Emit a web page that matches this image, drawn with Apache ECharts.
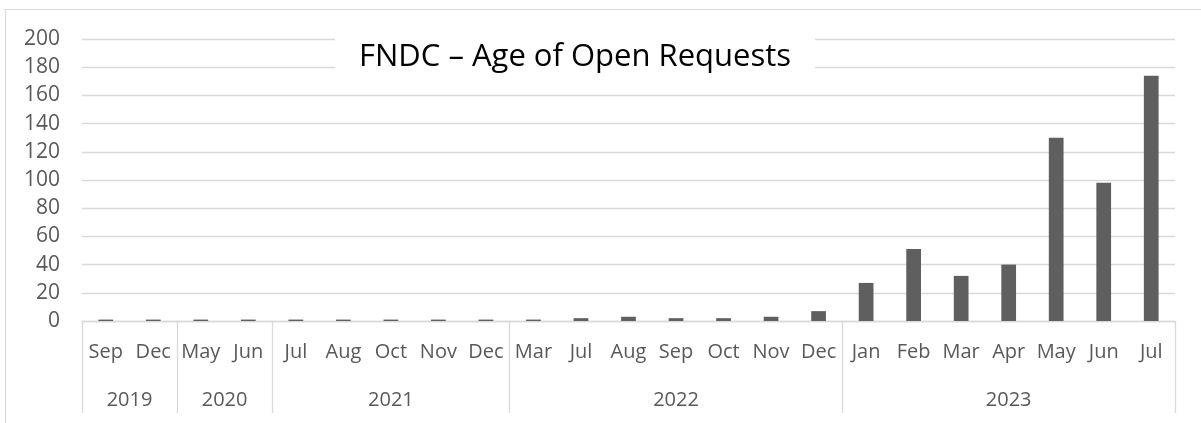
<!DOCTYPE html>
<html>
<head>
<meta charset="utf-8">
<title>FNDC – Age of Open Requests</title>
<script src="https://cdn.jsdelivr.net/npm/echarts@6/dist/echarts.min.js"></script>
<style>
	html, body { margin: 0; padding: 0; background: #fff; overflow: hidden; }
	/* 外框，只露出上边和左边 */
	#frame { position: absolute; left: 5px; top: 9px; width: 1300px; height: 500px; border: 1px solid #d9d9d9; }
	#main_1 { position: absolute; left: 0; top: 0; width: 1201px; height: 423px; }
</style>
</head>
<body>
<div id="frame"></div>
<div id="main_1"></div>
<script>
//---数据
var months = ['Sep', 'Dec', 'May', 'Jun', 'Jul', 'Aug', 'Oct', 'Nov', 'Dec',
	'Mar', 'Jul', 'Aug', 'Sep', 'Oct', 'Nov', 'Dec',
	'Jan', 'Feb', 'Mar', 'Apr', 'May', 'Jun', 'Jul']
var values = [1, 1, 1, 1, 1, 1, 1, 1, 1,
	1, 2, 3, 2, 2, 3, 7,
	27, 51, 32, 40, 130, 98, 174]
var yearLabels = ['2019', '2020', '2021', '2022', '2023']
var yearCounts = [2, 2, 5, 7, 7]   //每年有几个月
var yTicks = [0, 200, 20]          //min, max, interval

//年份分组的起点和中点
var groupStart = []
var groupMid = {}
var pos = 0
for(i = 0; i < yearCounts.length; i++) {
	groupStart.push(pos)
	groupMid[pos + yearCounts[i] / 2] = yearLabels[i]
	pos += yearCounts[i]
}

var textColor = '#595959'
var lineColor = '#d9d9d9'

var myChart = echarts.init(document.getElementById('main_1'));
var option = {
	animation: false,
	title: {
		text: 'FNDC – Age of Open Requests',
		left: 335,
		top: 36,
		padding: [4, 24, 4, 24],
		backgroundColor: '#fff',
		textStyle: {
			color: '#000',
			fontFamily: 'Open Sans',
			fontWeight: 'normal',
			fontSize: 31,
			lineHeight: 35
		}
	},
	grid: {
		left: 82,
		right: 26,
		top: 39,
		bottom: 102,
		containLabel: false
	},
	xAxis: [
		{
			// 月份
			type: 'category',
			data: months,
			position: 'bottom',
			axisLine: { lineStyle: { color: lineColor, width: 1.3 } },
			axisTick: {
				show: true,
				length: 92,
				lineStyle: { color: lineColor, width: 1.3 },
				//只在年份分界处画竖线
				interval: function(index) {
					return groupStart.indexOf(index) >= 0
				}
			},
			axisLabel: {
				interval: 0,
				margin: 21,
				color: textColor,
				fontFamily: 'Open Sans',
				fontSize: 20,
				lineHeight: 20
			},
			splitLine: { show: false }
		},
		{
			// 年份
			type: 'value',
			min: 0,
			max: months.length,
			interval: 0.5,
			position: 'bottom',
			axisLine: { show: false },
			axisTick: { show: false },
			splitLine: { show: false },
			axisLabel: {
				margin: 69,
				color: textColor,
				fontFamily: 'Open Sans',
				fontSize: 20,
				lineHeight: 20,
				formatter: function(v) {
					return groupMid[v] || ''
				}
			}
		}
	],
	yAxis: {
		type: 'value',
		min: yTicks[0],
		max: yTicks[1],
		interval: yTicks[2],
		axisLine: { show: false },
		axisTick: { show: false },
		axisLabel: {
			margin: 22,
			color: textColor,
			fontFamily: 'Open Sans',
			fontSize: 21
		},
		splitLine: { lineStyle: { color: lineColor, width: 1.3 } }
	},
	series: [
		{
			type: 'bar',
			xAxisIndex: 0,
			barWidth: '31%',
			itemStyle: { color: '#5f5f5f' },
			data: values
		}
	]
}
myChart.setOption(option);
</script>
</body>
</html>
